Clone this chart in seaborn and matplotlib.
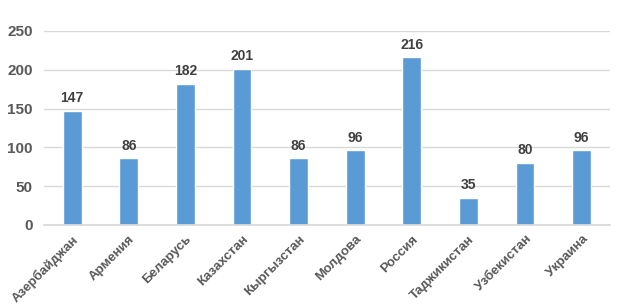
import matplotlib
matplotlib.use("Agg")
import matplotlib.pyplot as plt
import seaborn as sns
import pandas as pd

categories = ["Азербайджан", "Армения", "Беларусь", "Казахстан", "Кыргызстан",
              "Молдова", "Россия", "Таджикистан", "Узбекистан", "Украина"]
values = [147, 86, 182, 201, 86, 96, 216, 35, 80, 96]

sns.set_theme(style="white")
plt.rcParams['font.family'] = ['Liberation Sans', 'DejaVu Sans']

df = pd.DataFrame({"cat": categories, "val": values})
fig = plt.figure(figsize=(6.18, 3.06), dpi=100)
ax = fig.add_axes([0.071, 0.265, 0.916, 0.634])
sns.barplot(data=df, x="cat", y="val", color="#5B9BD5", width=0.33, ax=ax, saturation=1)

ax.set_ylim(0, 250)
ax.set_yticks([0, 50, 100, 150, 200, 250])
ax.yaxis.grid(True, color="#D9D9D9", linewidth=1)
ax.set_axisbelow(True)
for s in ["top", "right", "left"]:
    ax.spines[s].set_visible(False)
ax.spines["bottom"].set_color("#D9D9D9")
ax.set_xlabel("")
ax.set_ylabel("")
ax.tick_params(axis="both", length=0, colors="#595959", labelsize=9.5)
ax.tick_params(axis="y", pad=8)
for lab in ax.get_yticklabels():
    lab.set_fontweight("bold")
    lab.set_fontsize(11)
ax.set_xticks(range(len(categories)))
ax.set_xticklabels(categories, rotation=45, ha="right", rotation_mode="anchor",
                   fontweight="bold", fontsize=9.5, color="#595959")
ax.tick_params(axis="x", pad=6)

for i, v in enumerate(values):
    ax.text(i, v + 7, str(v), ha="center", va="bottom", fontsize=10,
            fontweight="bold", color="#404040")

fig.savefig("out.png", dpi=100)
